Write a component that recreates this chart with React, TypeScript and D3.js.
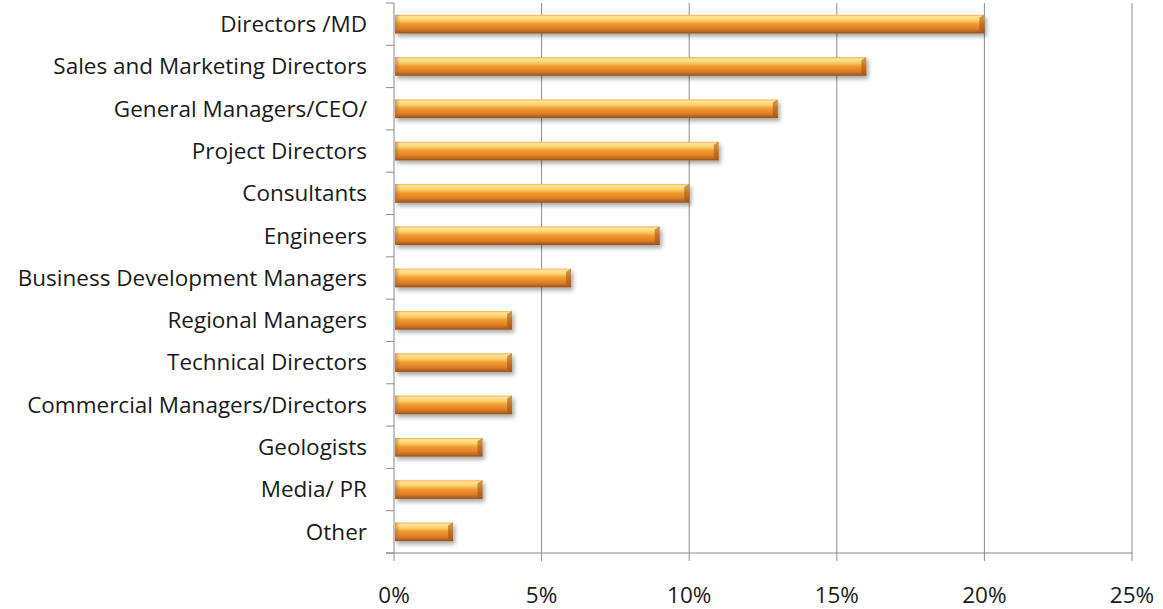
import React, { useRef, useEffect } from 'react';
import * as d3 from 'd3';

const categories = [
  'Directors /MD',
  'Sales and Marketing Directors',
  'General Managers/CEO/',
  'Project Directors',
  'Consultants',
  'Engineers',
  'Business Development Managers',
  'Regional Managers',
  'Technical Directors',
  'Commercial Managers/Directors',
  'Geologists',
  'Media/ PR',
  'Other',
];
const shares = [20, 16, 13, 11, 10, 9, 6, 4, 4, 4, 3, 3, 2];
const xTicks = [0, 5, 10, 15, 20, 25];

const width = 1163;
const height = 609;

const App = () => {
  const ref = useRef<SVGSVGElement>(null);

  useEffect(() => {
    const svg = d3.select(ref.current);
    svg.selectAll('*').remove();

    const left = 394, right = 1132, top = 3, bottom = 553;
    const x = d3.scaleLinear().domain([0, 25]).range([left, right]);
    const y = d3.scaleBand<string>().domain(categories).range([top, bottom]).paddingInner(0.56).paddingOuter(0.28);

    const defs = svg.append('defs');
    const grad = defs.append('linearGradient').attr('id', 'barGrad')
      .attr('x1', 0).attr('y1', 0).attr('x2', 0).attr('y2', 1);
    [
      ['0%', '#f5b050'],
      ['10%', '#fde49a'],
      ['28%', '#fcd36a'],
      ['48%', '#f09c32'],
      ['75%', '#e07f26'],
      ['90%', '#b9661f'],
      ['100%', '#8f4d18'],
    ].forEach(([o, c]) => grad.append('stop').attr('offset', o).attr('stop-color', c));
    const endGrad = defs.append('linearGradient').attr('id', 'endGrad')
      .attr('x1', 0).attr('y1', 0).attr('x2', 1).attr('y2', 0);
    endGrad.append('stop').attr('offset', '0%').attr('stop-color', '#b8621e').attr('stop-opacity', 0.55);
    endGrad.append('stop').attr('offset', '100%').attr('stop-color', '#b8621e').attr('stop-opacity', 0);
    const shadow = defs.append('filter').attr('id', 'shadow')
      .attr('x', '-5%').attr('y', '-40%').attr('width', '115%').attr('height', '200%');
    shadow.append('feDropShadow').attr('dx', 2).attr('dy', 3).attr('stdDeviation', 2.2)
      .attr('flood-color', '#000').attr('flood-opacity', 0.35);

    // gridlines
    svg.append('g').selectAll('line')
      .data(xTicks.slice(1))
      .join('line')
      .attr('x1', d => x(d)).attr('x2', d => x(d))
      .attr('y1', top).attr('y2', bottom + 8)
      .attr('stroke', '#8c8c8c').attr('stroke-width', 1);

    // bars
    const bars = svg.append('g');
    categories.forEach((c, i) => {
      const g = bars.append('g').attr('filter', 'url(#shadow)');
      const bx = x(0) + 1;
      const by = y(c)!;
      const bw = x(shares[i]) - x(0) - 1;
      const bh = y.bandwidth();
      g.append('rect').attr('x', bx).attr('y', by).attr('width', bw).attr('height', bh)
        .attr('fill', 'url(#barGrad)');
      // bevelled right end
      g.append('path')
        .attr('d', `M${bx + bw - 5},${by + 3} L${bx + bw},${by} L${bx + bw},${by + bh} L${bx + bw - 5},${by + bh - 3} Z`)
        .attr('fill', '#9a5018').attr('opacity', 0.55);
      g.append('rect').attr('x', bx).attr('y', by).attr('width', 5).attr('height', bh)
        .attr('fill', 'url(#endGrad)');
    });

    // left axis
    svg.append('line').attr('x1', left).attr('x2', left).attr('y1', top).attr('y2', bottom)
      .attr('stroke', '#8c8c8c');
    const step = y.step();
    svg.append('g').selectAll('line')
      .data(d3.range(categories.length + 1))
      .join('line')
      .attr('x1', left - 8).attr('x2', left)
      .attr('y1', i => top + i * step).attr('y2', i => top + i * step)
      .attr('stroke', '#8c8c8c');

    // bottom axis
    svg.append('line').attr('x1', left - 8).attr('x2', right).attr('y1', bottom).attr('y2', bottom)
      .attr('stroke', '#8c8c8c');
    svg.append('line').attr('x1', left).attr('x2', left).attr('y1', bottom).attr('y2', bottom + 8)
      .attr('stroke', '#8c8c8c');

    svg.append('g')
      .attr('font-family', '"Open Sans", sans-serif')
      .attr('font-size', 22.5)
      .attr('fill', '#1a1a1a')
      .attr('text-anchor', 'end')
      .selectAll('text')
      .data(categories)
      .join('text')
      .attr('x', left - 27)
      .attr('y', d => y(d)! + y.bandwidth() / 2)
      .attr('dy', '0.35em')
      .text(d => d);

    svg.append('g')
      .attr('font-family', '"Open Sans", sans-serif')
      .attr('font-size', 22.5)
      .attr('fill', '#1a1a1a')
      .attr('text-anchor', 'middle')
      .selectAll('text')
      .data(xTicks)
      .join('text')
      .attr('x', d => x(d))
      .attr('y', 603)
      .text(d => `${d}%`);
  }, []);

  return (
    <svg ref={ref} width={width} height={height}
      style={{ position: 'absolute', left: 0, top: 0, background: '#fff' }} />
  );
};

export default App;
